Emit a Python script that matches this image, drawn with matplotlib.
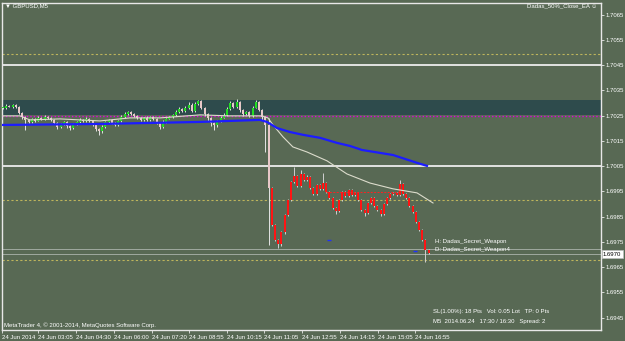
import numpy as np
import matplotlib.pyplot as plt

plt.rcParams['font.family'] = ['Liberation Sans', 'DejaVu Sans']

# --- data (GBPUSD M5, 24 Jun 2014) ---
first_open = 1.70280
closes = [
    1.70282, 1.70290, 1.70286, 1.70292, 1.70284, 1.70262, 1.70245, 1.70232,
    1.70226, 1.70238, 1.70230,
    1.70242, 1.70236, 1.70246, 1.70240, 1.70234, 1.70222, 1.70206,
    1.70216, 1.70224, 1.70208, 1.70200, 1.70214,
    1.70226, 1.70234, 1.70228, 1.70238, 1.70230,
    1.70216, 1.70198, 1.70188, 1.70206, 1.70224,
    1.70232, 1.70222, 1.70214, 1.70228, 1.70246,
    1.70256, 1.70264, 1.70258, 1.70250, 1.70240,
    1.70234, 1.70242, 1.70232, 1.70244, 1.70236,
    1.70222, 1.70206, 1.70226, 1.70238, 1.70244,
    1.70252, 1.70264, 1.70278, 1.70268, 1.70282,
    1.70294, 1.70270, 1.70296, 1.70306, 1.70280,
    1.70256, 1.70240, 1.70220, 1.70212, 1.70228,
    1.70242, 1.70254, 1.70276, 1.70298, 1.70284,
    1.70302, 1.70272, 1.70256, 1.70264, 1.70250,
    1.70282, 1.70302, 1.70272, 1.70246, 1.70214,
    # the drop and after
    1.69964, 1.69817, 1.69758, 1.69742, 1.69789, 1.69857, 1.69916, 1.69987,
    1.70011, 1.69972, 1.70019, 1.69995, 1.70007, 1.69964, 1.69940, 1.69976,
    1.69960, 1.69983, 1.69948, 1.69924, 1.69884, 1.69873, 1.69916, 1.69948,
    1.69932, 1.69956, 1.69936, 1.69944, 1.69916, 1.69877, 1.69865, 1.69904,
    1.69924, 1.69892, 1.69877, 1.69861, 1.69900, 1.69924, 1.69940, 1.69944,
    1.69936, 1.69980, 1.69940, 1.69924, 1.69892, 1.69869, 1.69829, 1.69797,
    1.69758, 1.69718, 1.69706,
]
# wick lengths in pips
up_wick = [
    0.4, 0.5, 0.3, 0.4, 0.3, 0.3, 0.4, 0.3, 0.5, 0.3,
    0.4, 0.5, 0.3, 0.6, 0.4, 0.3, 0.4, 0.3, 0.5, 0.4,
    0.3, 0.4, 0.5, 0.4, 0.6, 0.3, 0.5, 0.4, 0.3, 0.4,
    0.3, 0.5, 0.6, 0.4, 0.3, 0.4, 0.5, 0.6, 0.8, 0.5,
    0.4, 0.3, 0.4, 0.5, 0.3, 0.6, 0.4, 0.3, 0.4, 0.3,
    0.5, 0.4, 0.6, 0.5, 0.8, 0.6, 0.4, 0.7, 0.9, 0.5,
    0.8, 0.6, 0.4, 0.3, 0.4, 0.3, 0.4, 0.5, 0.6, 0.7,
    0.8, 0.9, 0.6, 1.2, 0.5, 0.4, 0.6, 0.4, 0.7, 1.0,
    0.5, 0.4, 0.3,
    2.7, 0.5, 0.4, 0.3, 0.4, 0.5, 0.4, 0.6, 3.6, 0.4,
    1.6, 0.5, 0.6, 0.3, 0.4, 0.5, 0.4, 4.0, 0.4, 0.3,
    0.4, 0.3, 0.5, 0.4, 0.3, 0.5, 0.4, 0.3, 0.4, 0.3,
    0.4, 0.5, 0.4, 0.3, 0.4, 0.3, 0.4, 0.5, 0.4, 0.3,
    0.4, 1.5, 0.4, 0.3, 0.4, 0.3, 0.4, 0.3, 0.4, 0.3,
    0.5,
]
down_wick = [
    0.3, 0.4, 0.3, 0.5, 0.4, 0.6, 0.8, 3.9, 0.6, 0.5,
    0.4, 0.3, 0.5, 0.4, 0.3, 0.5, 0.6, 0.8, 0.5, 0.4,
    0.6, 0.7, 0.4, 0.3, 0.5, 0.4, 0.3, 0.5, 0.6, 0.8,
    1.4, 0.5, 0.4, 0.3, 0.5, 0.6, 0.4, 0.3, 0.4, 0.3,
    0.4, 0.5, 0.3, 0.4, 0.6, 0.5, 0.3, 0.4, 0.6, 1.0,
    0.5, 0.4, 0.3, 0.4, 0.3, 0.5, 0.4, 0.3, 0.4, 0.6,
    0.4, 0.3, 0.5, 0.8, 1.0, 1.2, 2.0, 0.6, 0.4, 0.3,
    0.4, 0.5, 0.3, 0.4, 0.6, 0.8, 0.5, 0.6, 0.4, 0.3,
    0.5, 1.5, 10.8,
    22.6, 0.6, 0.6, 1.6, 0.8, 0.6, 0.5, 0.4, 0.3, 0.5,
    0.4, 0.3, 0.4, 0.5, 0.4, 0.3, 0.4, 0.3, 0.4, 0.5,
    0.4, 1.2, 0.3, 0.4, 0.5, 0.3, 0.4, 0.3, 0.4, 0.5,
    1.2, 0.3, 0.4, 0.5, 0.4, 0.8, 0.3, 0.4, 0.3, 0.4,
    0.5, 0.3, 0.4, 0.5, 0.4, 0.3, 0.5, 0.4, 0.5, 4.8,
    0.6,
]
signal_bar = 84  # bars from here on are painted red by the indicator

# moving averages (bar index, price)
slow_ma_x = [-0.3, 30.3, 61.6, 80.3, 82.5, 85.6, 89.7, 93.75, 99.1, 104.4,
             108.4, 112.2, 121.9, 129.4, 132.5]
slow_ma_y = [1.70213, 1.70217, 1.70225, 1.70233, 1.70225, 1.70201, 1.70185,
             1.70174, 1.70162, 1.70142, 1.70130, 1.70114, 1.70094, 1.70063,
             1.70051]
fast_ma_x = [-0.3, 5.3, 8.4, 17.8, 30.3, 39.7, 49.1, 61.6, 70.9, 80.9, 82.8,
             84.4, 87.5, 90.6, 95.0, 101.25, 107.5, 114.7, 121.9, 129.4, 134.4]
fast_ma_y = [1.70249, 1.70249, 1.70233, 1.70237, 1.70229, 1.70241, 1.70241,
             1.70253, 1.70249, 1.70249, 1.70241, 1.70213, 1.70166, 1.70126,
             1.70106, 1.70071, 1.70019, 1.69983, 1.69960, 1.69944, 1.69904]

white_levels = [1.7045, 1.7005]
yellow_levels = [1.70494, 1.69916, 1.69679]
zone_low, zone_high = 1.70253, 1.70312
magenta_level = 1.7025
bid, ask = 1.6970, 1.6972
red_line = (101, 124, 1.69948)
blue_marks = [(101.2, 102.4, 1.69758), (128.0, 129.4, 1.69714)]

tick_bars = [-0.3, 10.9, 22.8, 34.7, 46.6, 58.1, 70.0, 81.6, 93.4, 105.3,
             117.2, 128.8]
tick_labels = ['24 Jun 2014', '24 Jun 03:05', '24 Jun 04:30', '24 Jun 06:00',
               '24 Jun 07:20', '24 Jun 08:55', '24 Jun 10:15', '24 Jun 11:05',
               '24 Jun 12:55', '24 Jun 14:15', '24 Jun 15:05', '24 Jun 16:55']
price_ticks = [1.6945, 1.6955, 1.6965, 1.6975, 1.6985, 1.6995, 1.7005,
               1.7015, 1.7025, 1.7035, 1.7045, 1.7055, 1.7065]

# --- figure ---
bg = '#586954'
W, H = 625, 341
fig = plt.figure(figsize=(W / 100, H / 100), dpi=100, facecolor=bg)
ax = fig.add_axes([2 / W, 11 / H, 599 / W, 327 / H], facecolor=bg)
ax.set_xlim(-0.31, 186.9)
ax.set_ylim(1.69401, 1.70696)

ax.axhspan(zone_low, zone_high, color='#2e4b4c', lw=0, zorder=0)
for lv in white_levels:
    ax.axhline(lv, color='#ececec', lw=1.3, zorder=1)
for lv in yellow_levels:
    ax.axhline(lv, color='#bdb45c', lw=0.8, dashes=(2, 2), zorder=1)
ax.axhline(magenta_level, color='#e000e0', lw=1.0, dashes=(1, 1.5), zorder=2)
ax.axhline(bid, color='#a0aaa0', lw=0.7, zorder=1)
ax.axhline(ask, color='#a0aaa0', lw=0.7, zorder=1)

closes = np.array(closes)
opens = np.concatenate([[first_open], closes[:-1]])
pip = 0.0001
highs = np.maximum(opens, closes) + np.array(up_wick) * pip
lows = np.minimum(opens, closes) - np.array(down_wick) * pip
idx = np.arange(len(closes))

body_colors = []
wick_colors = []
for i in idx:
    if i >= signal_bar:
        body_colors.append('#ff1414')
        wick_colors.append('#d0d0d0')
    elif closes[i] >= opens[i]:
        body_colors.append('#22dd22')
        wick_colors.append('#d8e8d8')
    else:
        body_colors.append('#e8c8c8')
        wick_colors.append('#e4e4e4')

ax.vlines(idx, lows, highs, colors=wick_colors, lw=0.7, zorder=3)
heights = np.maximum(np.abs(closes - opens), 0.00003)
ax.bar(idx, heights, bottom=np.minimum(opens, closes), width=0.62,
       color=body_colors, lw=0, zorder=4)

ax.plot(fast_ma_x, fast_ma_y, color='#dcdccc', lw=0.8, zorder=5)
ax.plot(slow_ma_x, slow_ma_y, color='#1c1cff', lw=1.6, zorder=5)

ax.hlines(red_line[2], red_line[0], red_line[1], colors='#ff2020', lw=0.7,
          linestyles=(0, (2, 1.5)), zorder=5)
for x0, x1, y in blue_marks:
    ax.hlines(y, x0, x1, colors='#2030ff', lw=1.0, zorder=5)

# axes cosmetics
for s in ax.spines.values():
    s.set_color('#e8e8e8')
    s.set_linewidth(1.0)
ax.yaxis.tick_right()
ax.set_yticks(price_ticks)
ax.set_yticklabels(['%.4f' % p for p in price_ticks])
ax.set_xticks(tick_bars)
ax.set_xticklabels(tick_labels)
ax.tick_params(colors='#e8e8e8', labelcolor='white', labelsize=4.3,
               length=2, width=0.6, pad=1.5)
for lbl in ax.get_xticklabels():
    lbl.set_ha('left')

# price box
fig.text(603 / W, 1 - 254 / H, '%.4f' % bid, fontsize=4.3, color='black',
         va='center', ha='left',
         bbox=dict(boxstyle='square,pad=0.25', fc='white', ec='#c0c0c0', lw=0.5))

def t(x, y, s, **kw):
    fig.text(x / W, 1 - y / H, s, color='white', fontsize=4.3, va='center', **kw)

t(5, 6, '\u25bc GBPUSD,M5')
t(597, 6, 'Dadas_50%_Close_EA \u263a', ha='right')
t(435, 241, 'H: Dadas_Secret_Weapon')
t(435, 249, 'D: Dadas_Secret_Weapon4')
t(433, 311, 'SL(1.00%): 18 Pts   Vol: 0.05 Lot   TP: 0 Pts')
t(433, 322, 'M5  2014.06.24   17:30 / 16:30   Spread: 2')
t(4, 325, 'MetaTrader 4, \u00a9 2001-2014, MetaQuotes Software Corp.')

fig.savefig('out.png', dpi=100, facecolor=bg)
